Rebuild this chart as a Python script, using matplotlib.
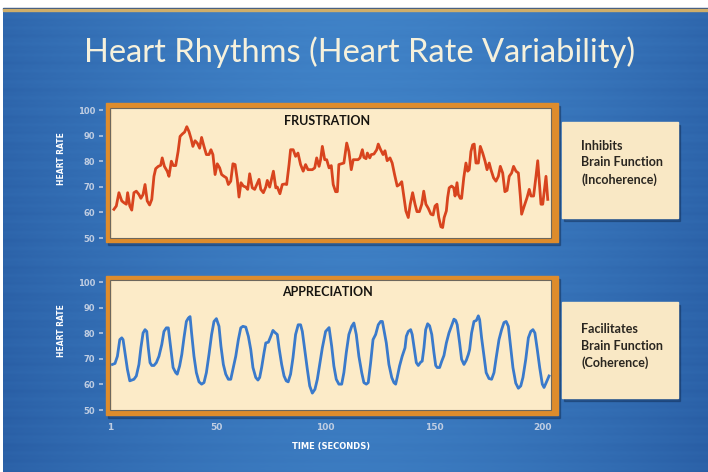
import matplotlib
matplotlib.use("Agg")
import matplotlib.pyplot as plt
import numpy as np
from matplotlib.patches import Rectangle

# ---------------- data ----------------
title = "Heart Rhythms (Heart Rate Variability)"
panel_titles = ["FRUSTRATION", "APPRECIATION"]
side_lines = [["Inhibits", "Brain Function", "(Incoherence)"],
              ["Facilitates", "Brain Function", "(Coherence)"]]
ylabel = "HEART RATE"
xlabel = "TIME (SECONDS)"
x_ticks = [1, 50, 100, 150, 200]
y_ticks = [50, 60, 70, 80, 90, 100]

frus_t = [2.8, 3.9, 5.1, 6.4, 7.4, 8.5, 9.1, 10.1, 11.0, 12.0,
          13.1, 14.3, 15.2, 16.2, 17.1, 18.1, 19.2, 20.2, 21.2, 22.0,
          23.2, 24.3, 25.0, 26.0, 27.3, 28.1, 29.2, 30.1, 31.2, 32.3,
          33.2, 34.2, 35.3, 36.3, 37.3, 38.2, 39.1, 40.1, 41.1, 42.2,
          43.1, 44.2, 45.3, 46.5, 47.4, 48.3, 49.3, 50.3, 51.4, 52.3,
          53.4, 54.5, 55.4, 56.5, 57.5, 58.5, 59.5, 60.3, 61.2, 62.3,
          63.4, 64.3, 65.2, 66.4, 67.5, 69.5, 70.3, 71.5, 72.6, 73.3,
          74.4, 75.1, 76.1, 77.2, 77.9, 79.1, 80.2, 81.3, 82.2, 83.3,
          84.0, 85.2, 86.3, 87.4, 88.6, 89.8, 90.9, 92.0, 92.9, 94.0,
          95.1, 96.0, 97.1, 97.8, 98.6, 99.7, 100.6, 101.7, 102.7, 103.6,
          104.7, 105.5, 106.2, 107.3, 108.5, 109.8, 110.8, 111.9, 112.8, 113.9,
          115.0, 115.9, 117.0, 117.7, 118.7, 119.3, 120.4, 121.1, 122.3, 123.6,
          124.3, 125.4, 126.5, 127.4, 128.4, 129.7, 130.7, 131.8, 133.0, 134.1,
          135.1, 136.0, 137.0, 138.1, 139.0, 140.1, 141.2, 142.1, 143.2, 144.3,
          145.2, 146.2, 147.3, 148.5, 149.5, 150.4, 151.3, 152.1, 153.1, 153.9,
          154.6, 155.6, 156.2, 156.9, 158.0, 159.0, 159.6, 160.5, 161.1, 162.0,
          162.6, 163.6, 164.6, 165.4, 166.1, 166.9, 167.7, 168.4, 169.2, 170.3,
          171.2, 172.3, 173.4, 174.3, 175.3, 176.1, 177.3, 178.4, 179.5, 180.4,
          181.5, 182.5, 183.5, 184.5, 185.6, 186.5, 187.6, 188.7, 189.6, 190.2,
          191.4, 192.7, 193.7, 194.5, 195.7, 196.8, 197.6, 198.3, 199.1, 199.9,
          200.6, 201.4, 202.2]
frus_v = [61.2, 62.5, 67.7, 64.5, 63.8, 63.2, 67.7, 62.5, 60.9, 67.7,
          68.3, 67.0, 65.5, 67.0, 70.9, 64.5, 62.9, 65.1, 74.1, 77.1,
          78.0, 78.4, 81.3, 78.0, 76.1, 74.1, 80.0, 78.3, 78.3, 83.8,
          89.7, 90.6, 91.4, 93.5, 91.6, 89.0, 85.8, 88.0, 87.1, 85.1,
          89.3, 85.8, 82.6, 82.6, 84.5, 82.6, 74.8, 79.0, 77.4, 74.8,
          74.1, 73.5, 70.9, 72.2, 79.0, 78.7, 72.9, 66.0, 71.6, 70.3,
          69.9, 69.0, 75.1, 69.6, 69.0, 72.9, 69.0, 67.7, 69.9, 72.5,
          69.9, 72.5, 76.1, 69.6, 69.9, 67.3, 70.9, 71.1, 70.9, 78.7,
          84.5, 84.5, 81.9, 83.2, 78.7, 76.1, 78.7, 76.7, 76.7, 76.7,
          77.4, 81.3, 78.0, 80.6, 85.8, 80.6, 80.6, 77.4, 78.3, 70.9,
          68.1, 68.1, 78.7, 79.0, 79.3, 87.1, 83.8, 76.7, 80.6, 80.6,
          80.6, 81.3, 84.5, 81.5, 81.0, 83.2, 81.3, 82.6, 82.8, 84.5,
          86.7, 84.5, 82.6, 84.1, 80.2, 81.3, 79.3, 74.8, 70.3, 70.9,
          72.0, 66.5, 60.6, 58.0, 63.2, 67.7, 63.2, 60.3, 60.3, 63.2,
          68.3, 63.2, 61.6, 59.3, 59.0, 62.5, 63.2, 58.0, 54.4, 54.1,
          58.0, 60.6, 65.8, 69.6, 70.3, 69.6, 66.4, 71.6, 67.0, 65.5,
          65.5, 73.5, 79.3, 76.1, 76.7, 83.8, 86.4, 86.7, 79.3, 79.3,
          85.8, 83.2, 80.0, 76.7, 79.3, 76.7, 73.5, 72.2, 74.1, 78.0,
          75.4, 68.1, 68.6, 74.1, 75.4, 78.0, 76.1, 75.4, 66.4, 59.3,
          62.5, 65.8, 69.0, 66.4, 66.4, 74.1, 80.2, 72.2, 63.2, 63.2,
          68.3, 74.1, 65.1]

appr_t = [2.1, 3.3, 4.4, 5.5, 6.4, 7.0, 7.9, 9.0, 10.1, 11.0,
          12.0, 13.1, 14.3, 15.2, 16.2, 17.1, 17.9, 18.6, 19.4, 20.2,
          21.2, 22.3, 23.5, 24.8, 25.8, 26.9, 27.8, 28.9, 30.0, 31.2,
          31.9, 33.0, 34.0, 35.0, 36.1, 37.0, 37.8, 38.5, 39.6, 40.7,
          41.9, 43.1, 44.2, 45.3, 46.5, 47.7, 48.8, 49.9, 51.1, 52.0,
          53.1, 54.2, 55.4, 56.5, 57.5, 58.8, 60.0, 61.1, 62.1, 63.4,
          64.6, 65.7, 66.7, 68.0, 69.0, 69.8, 70.7, 71.8, 72.6, 73.8,
          74.9, 75.9, 76.8, 77.9, 78.7, 79.9, 81.0, 82.0, 82.9, 84.0,
          85.1, 86.3, 87.5, 88.6, 89.4, 90.6, 91.7, 92.8, 94.0, 95.2,
          96.3, 97.4, 98.6, 100.1, 101.7, 102.9, 103.9, 105.0, 106.2, 107.5,
          108.5, 109.6, 110.8, 112.1, 113.1, 114.2, 115.4, 116.7, 117.7, 118.8,
          119.7, 120.8, 121.9, 123.1, 124.3, 125.4, 126.2, 126.9, 128.0, 129.2,
          130.5, 131.5, 132.3, 133.0, 134.1, 135.3, 136.6, 137.2, 138.1, 139.2,
          139.9, 140.9, 141.8, 142.7, 143.8, 144.5, 145.3, 146.1, 147.0, 147.9,
          148.9, 149.9, 150.7, 151.4, 152.5, 153.5, 154.5, 155.6, 156.8, 158.0,
          159.1, 159.9, 160.6, 161.7, 162.6, 163.7, 164.8, 165.7, 166.3, 167.2,
          168.3, 169.4, 170.3, 170.9, 171.8, 172.9, 173.9, 175.2, 176.4, 177.5,
          178.5, 179.8, 181.0, 182.1, 183.1, 184.1, 185.2, 186.2, 187.5, 188.7,
          189.8, 190.8, 192.1, 193.3, 194.4, 195.4, 196.3, 197.4, 198.5, 199.7,
          200.5, 201.5, 202.8]
appr_v = [67.8, 68.2, 71.0, 77.5, 78.2, 77.5, 72.4, 65.9, 61.4, 61.7,
          62.0, 63.3, 67.8, 74.3, 80.1, 81.4, 80.7, 74.3, 68.5, 67.4,
          67.4, 68.5, 71.0, 75.6, 80.7, 82.1, 82.1, 74.3, 66.6, 64.6,
          64.0, 67.2, 71.7, 78.2, 84.6, 85.9, 86.5, 80.1, 71.0, 64.6,
          61.0, 60.1, 60.7, 64.6, 71.7, 79.5, 84.6, 85.7, 82.7, 74.9,
          67.8, 64.0, 62.0, 62.0, 65.9, 71.0, 77.5, 82.1, 82.7, 82.4,
          78.8, 73.6, 66.6, 62.7, 61.7, 62.7, 66.6, 72.4, 76.2, 76.5,
          78.8, 81.1, 80.3, 79.5, 74.3, 67.8, 63.3, 61.4, 61.0, 64.0,
          70.4, 79.5, 83.3, 83.3, 80.7, 73.0, 65.9, 59.4, 56.6, 58.1,
          62.0, 67.8, 74.3, 80.7, 82.2, 74.9, 67.2, 62.0, 60.1, 60.1,
          64.6, 72.4, 79.5, 82.7, 84.0, 79.5, 71.0, 64.6, 60.7, 60.1,
          60.7, 68.5, 77.5, 79.5, 83.3, 84.6, 84.6, 81.4, 76.2, 67.8,
          62.7, 60.7, 60.1, 62.7, 67.2, 71.0, 74.3, 78.8, 80.7, 81.4,
          79.5, 73.6, 68.5, 67.4, 68.7, 69.1, 74.3, 81.4, 83.7, 82.9,
          79.5, 72.4, 67.4, 66.6, 66.6, 69.1, 71.3, 76.2, 80.1, 82.9,
          85.5, 85.0, 83.3, 76.2, 69.8, 67.8, 69.5, 71.7, 73.6, 80.1,
          84.6, 85.0, 86.8, 85.3, 78.2, 71.0, 64.6, 62.3, 62.0, 64.6,
          70.4, 77.5, 81.4, 84.2, 84.6, 82.7, 74.3, 66.6, 60.5, 58.5,
          59.4, 62.7, 69.8, 78.2, 80.7, 81.4, 80.1, 73.6, 66.6, 60.1,
          58.8, 60.7, 63.3]

series = [(frus_t, frus_v, "#d8441e"), (appr_t, appr_v, "#3a7acb")]

# ---------------- layout ----------------
W, H, DPI = 708, 472, 100
fig = plt.figure(figsize=(W / DPI, H / DPI), dpi=DPI)
fig.patch.set_facecolor("white")


def rect(x0, y0, x1, y1):
    return [x0 / W, 1 - y1 / H, (x1 - x0) / W, (y1 - y0) / H]


# background
bg = fig.add_axes([0, 0, 1, 1], zorder=0)
bg.set_axis_off()
bg.set_xlim(0, W)
bg.set_ylim(H, 0)
gx = np.linspace(-1, 1, 600)
gy = np.linspace(0, 1, 400)
GX, GY = np.meshgrid(gx, gy)
shade = 1 - 0.55 * np.abs(GX) ** 1.6 - 0.15 * GY
streak = (0.03 * np.sin(GY * 211) + 0.02 * np.sin(GY * 537 + 1.3)
          + 0.015 * np.sin(GY * 97 + 0.4))
shade = np.clip(shade + streak * (0.6 + 0.4 * np.abs(GX)), 0, 1)
c_dark = np.array([0.13, 0.32, 0.60])
c_light = np.array([0.25, 0.51, 0.78])
img = c_dark[None, None, :] + (c_light - c_dark)[None, None, :] * shade[..., None]
bg.imshow(np.clip(img, 0, 1), extent=[3, W, H, 11], aspect="auto", zorder=0)
bg.add_patch(Rectangle((3, 8), W - 3, 1.2, color="#2a4f86", zorder=1))
bg.add_patch(Rectangle((3, 9.2), W - 3, 2.2, color="#cfae6a", zorder=1))

panel_px = [(110, 108, 551, 238), (110, 280, 551, 410)]
frame_px = [(106, 103, 558, 242), (106, 276, 558, 415)]
box_px = [(562, 122, 678, 218), (562, 302, 678, 398)]

for (x0, y0, x1, y1) in frame_px:
    bg.add_patch(Rectangle((x0 + 2, y0 + 3), x1 - x0, y1 - y0,
                           color="#0c2346", alpha=0.35, zorder=2))
    bg.add_patch(Rectangle((x0, y0), x1 - x0, y1 - y0,
                           color="#de8c2c", zorder=3))
for (x0, y0, x1, y1) in box_px:
    bg.add_patch(Rectangle((x0 + 2, y0 + 3), x1 - x0, y1 - y0,
                           color="#0c2346", alpha=0.35, zorder=2))
    bg.add_patch(Rectangle((x0, y0), x1 - x0, y1 - y0,
                           color="#f9e8c5", zorder=3))

tick_col = "#bfcde2"
for i, ((t, v, col), p) in enumerate(zip(series, panel_px)):
    ax = fig.add_axes(rect(*p), zorder=2)
    ax.set_facecolor("#fcebc8")
    # grid (style)
    for k in range(1, 14):
        ax.axhline(k / 14, color="#f3dcb3" if k % 2 else "#efd3a3",
                   lw=0.5 if k % 2 else 0.9, zorder=0.5)
    for k in range(0, 49):
        xx = 0.004 + k / 48.2
        if xx < 1:
            ax.axvline(xx, 0, 1, color="#f3dcb3" if k % 2 else "#efd3a3",
                       lw=0.5 if k % 2 else 0.9, zorder=0.5)
    ax.plot(t, v, color=col, lw=2.0, solid_joinstyle="round", zorder=3)
    ax.set_xlim(1, 203.7)
    ax.set_ylim(50.4, 100.8)
    for s in ["top", "right", "bottom"]:
        ax.spines[s].set_visible(False)
    ax.spines["left"].set_position(("outward", 5))
    ax.spines["left"].set_visible(False)
    ax.add_patch(Rectangle((0, 0), 1, 1, transform=ax.transAxes, fill=False,
                           ec="#6d675c", lw=0.8, zorder=4, clip_on=False))
    ax.set_yticks(y_ticks)
    ax.set_yticklabels([str(y) for y in y_ticks], fontweight="bold",
                       fontsize=6, color=tick_col)
    ax.tick_params(axis="y", length=3, width=1.1, color=tick_col, pad=2.5)
    if i == 0:
        ax.set_xticks([])
    else:
        ax.set_xticks(x_ticks)
        ax.set_xticklabels([str(x) for x in x_ticks], fontweight="bold",
                           fontsize=6.5, color=tick_col)
        ax.tick_params(axis="x", length=0, pad=9.5)

# overlay text
ov = fig.add_axes([0, 0, 1, 1], zorder=5)
ov.set_axis_off()
ov.set_xlim(0, W)
ov.set_ylim(H, 0)
ov.text(360, 52, title, fontsize=23.5, color="#f6f1dc", family="Lato",
        ha="center", va="center")
for name, yc in zip(panel_titles, [121, 291.5]):
    ov.text(327, yc, name, fontsize=9, fontweight="bold", family="Lato",
            color="#161410", ha="center", va="center")
for lines, y0 in zip(side_lines, [145.5, 329]):
    for j, ln in enumerate(lines):
        ov.text(581, y0 + 17 * j, ln, fontsize=9, fontweight="bold",
                family="Lato", color="#2a2620", ha="left", va="center")
for yc in [159, 331]:
    ov.text(62, yc, ylabel, rotation=90, fontsize=5.5, fontweight="bold",
            color="white", ha="center", va="center")
ov.text(331, 447, xlabel, fontsize=6, fontweight="bold", color="white",
        ha="center", va="center")

fig.savefig("out.png", dpi=DPI)
